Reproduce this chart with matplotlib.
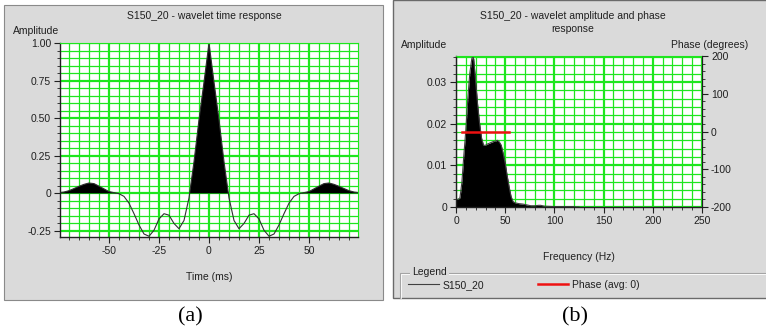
import numpy as np
import matplotlib
matplotlib.use('Agg')
import matplotlib.pyplot as plt
from matplotlib.ticker import MultipleLocator, FixedLocator, FixedFormatter
from matplotlib.patches import Rectangle

plt.rcParams['font.family'] = 'Liberation Sans'
plt.rcParams['axes.unicode_minus'] = False

# wavelet time response, one sample every 2.5 ms
time_ms = [-75, -72.5, -70, -67.5, -65, -62.5, -60, -57.5, -55, -52.5,
           -50, -47.5, -45, -42.5, -40, -37.5, -35, -32.5, -30, -27.5,
           -25, -22.5, -20, -17.5, -15, -12.5, -10, -7.5, -5, -2.5,
           0,
           2.5, 5, 7.5, 10, 12.5, 15, 17.5, 20, 22.5,
           25, 27.5, 30, 32.5, 35, 37.5, 40, 42.5, 45, 47.5,
           50, 52.5, 55, 57.5, 60, 62.5, 65, 67.5, 70, 72.5, 75]
wavelet_amp = [0.005, 0.009, 0.018, 0.032, 0.047, 0.060, 0.069, 0.065, 0.048, 0.030,
               0.012, 0.005, -0.002, -0.02, -0.065, -0.135, -0.21, -0.27, -0.285, -0.245,
               -0.17, -0.135, -0.145, -0.20, -0.235, -0.18, -0.03, 0.21, 0.49, 0.74,
               1.00,
               0.74, 0.49, 0.21, -0.03, -0.18, -0.235, -0.20, -0.145, -0.135,
               -0.17, -0.245, -0.285, -0.27, -0.21, -0.135, -0.065, -0.02, -0.002, 0.005,
               0.012, 0.030, 0.048, 0.065, 0.069, 0.060, 0.047, 0.032, 0.018, 0.009, 0.005]

# amplitude spectrum
freq_hz = [0, 2, 4, 5, 6, 8, 10, 12, 14, 16, 17, 18, 20, 22, 24, 26, 28, 30,
           32, 34, 36, 38, 40, 42, 44, 46, 48, 50, 52, 54, 56, 58, 60, 64,
           68, 72, 76, 80, 84, 86, 90, 100, 110, 120, 122, 125]
spec_amp = [0.0019, 0.0018, 0.0022, 0.004, 0.006, 0.0125, 0.0185, 0.026, 0.032,
            0.0355, 0.0362, 0.0355, 0.030, 0.0245, 0.020, 0.0165, 0.0148, 0.0148,
            0.0151, 0.0153, 0.0155, 0.0157, 0.0158, 0.0160, 0.0156, 0.0148, 0.0128,
            0.0105, 0.0075, 0.0048, 0.0025, 0.0013, 0.0010, 0.0008, 0.0007, 0.0005,
            0.0003, 0.0003, 0.0004, 0.0004, 0.0002, 0.0001, 0.0001, 0.0001, 0.0, 0.0]

# average phase over the pass band
phase_freq = [6, 54]
phase_deg = [0, 0]

time_ticks = [-50, -25, 0, 25, 50]
amp_ticks = [-0.25, 0, 0.25, 0.5, 0.75, 1.0]
amp_labels = ['-0.25', '0', '0.25', '0.50', '0.75', '1.00']
freq_ticks = [0, 50, 100, 150, 200, 250]
spec_ticks = [0, 0.01, 0.02, 0.03]
spec_labels = ['0', '0.01', '0.02', '0.03']
phase_ticks = [-200, -100, 0, 100, 200]

W, H = 766, 331
GREEN = '#1ee61e'
PANEL = '#dadada'
INK = '#202020'
FS = 7.5

fig = plt.figure(figsize=(W / 100, H / 100), dpi=100)
fig.patch.set_facecolor('white')

# pixel-space background with the two window panels
bg = fig.add_axes([0, 0, 1, 1])
bg.set_xlim(0, W)
bg.set_ylim(H, 0)
bg.axis('off')
bg.add_patch(Rectangle((4, 5), 379, 295, facecolor=PANEL, edgecolor='#8a8a8a', lw=0.8))
bg.add_patch(Rectangle((393, 0), 380, 298, facecolor=PANEL, edgecolor='#6a6a6a', lw=1))


def px_axes(x0, y0, x1, y1):
    return fig.add_axes([x0 / W, 1 - y1 / H, (x1 - x0) / W, (y1 - y0) / H])


def style_axes(ax):
    ax.set_facecolor('white')
    ax.set_axisbelow(True)
    ax.grid(which='major', color=GREEN, lw=1.6)
    ax.grid(which='minor', color=GREEN, lw=0.9)
    ax.tick_params(which='major', length=4.5, width=0.8, color=INK,
                   labelsize=FS, labelcolor=INK, pad=2)
    ax.tick_params(which='minor', length=2.5, width=0.6, color=INK)
    for s in ['top', 'right']:
        ax.spines[s].set_color(GREEN)
    for s in ['left', 'bottom']:
        ax.spines[s].set_color(INK)
        ax.spines[s].set_linewidth(1.0)


# (a) wavelet time response
ax1 = px_axes(60, 43, 358, 237)
style_axes(ax1)
t = np.array(time_ms)
w = np.array(wavelet_amp)
ax1.plot(t, w, color='#303030', lw=0.8)
ax1.fill_between(t, w, 0, where=w >= 0, interpolate=True, color='black', lw=0)
ax1.set_xlim(-74.5, 74.5)
ax1.set_ylim(-0.29, 1.0)
ax1.xaxis.set_major_locator(FixedLocator(time_ticks))
ax1.xaxis.set_minor_locator(MultipleLocator(5))
ax1.yaxis.set_major_locator(FixedLocator(amp_ticks))
ax1.yaxis.set_major_formatter(FixedFormatter(amp_labels))
ax1.yaxis.set_minor_locator(MultipleLocator(0.05))

bg.text(204, 16, 'S150_20 - wavelet time response', ha='center', va='center', fontsize=FS, color=INK)
bg.text(13, 31, 'Amplitude', ha='left', va='center', fontsize=FS, color=INK)
bg.text(209, 277, 'Time (ms)', ha='center', va='center', fontsize=FS, color=INK)

# (b) amplitude and phase spectrum
ax2 = px_axes(456, 56, 702, 207)
style_axes(ax2)
ax2.spines['right'].set_color(INK)
spec_line, = ax2.plot(freq_hz, spec_amp, color='#404040', lw=0.8)
ax2.fill_between(freq_hz, spec_amp, 0, color='black', lw=0)
ax2.set_xlim(0, 250)
ax2.set_ylim(0, 0.0362)
ax2.xaxis.set_major_locator(FixedLocator(freq_ticks))
ax2.xaxis.set_minor_locator(MultipleLocator(10))
ax2.yaxis.set_major_locator(FixedLocator(spec_ticks))
ax2.yaxis.set_major_formatter(FixedFormatter(spec_labels))
ax2.yaxis.set_minor_locator(MultipleLocator(0.002))

ax3 = ax2.twinx()
for s in ['top', 'left', 'bottom']:
    ax3.spines[s].set_visible(False)
ax3.spines['right'].set_color(INK)
ph_line, = ax3.plot(phase_freq, phase_deg, color='#ee1111', lw=1.8)
ax3.set_ylim(-200, 200)
ax3.yaxis.set_major_locator(FixedLocator(phase_ticks))
ax3.yaxis.set_minor_locator(MultipleLocator(20))
ax3.tick_params(which='major', length=4.5, width=0.8, color=INK, labelsize=FS, labelcolor=INK, pad=2)
ax3.tick_params(which='minor', length=2.5, width=0.6, color=INK)

bg.text(573, 16, 'S150_20 - wavelet amplitude and phase', ha='center', va='center', fontsize=FS, color=INK)
bg.text(573, 29, 'response', ha='center', va='center', fontsize=FS, color=INK)
bg.text(401, 45, 'Amplitude', ha='left', va='center', fontsize=FS, color=INK)
bg.text(748, 45, 'Phase (degrees)', ha='right', va='center', fontsize=FS, color=INK)
bg.text(579, 257, 'Frequency (Hz)', ha='center', va='center', fontsize=FS, color=INK)

# legend group box
bg.plot([400, 400, W], [298, 273, 273], color='#a4a4a4', lw=0.8)
bg.plot([401, 401, W], [298, 274, 274], color='white', lw=0.6)
bg.text(412, 272, 'Legend', ha='left', va='center', fontsize=FS, color=INK,
        bbox=dict(facecolor=PANEL, edgecolor='none', pad=1.5))
fig.legend(handles=[spec_line, ph_line], labels=['S150_20', 'Phase (avg: 0)'],
           loc='center left', bbox_to_anchor=(399 / W, 1 - 285 / H), ncol=2,
           frameon=False, fontsize=FS, handlelength=2.9, handletextpad=0.4,
           columnspacing=5.1, labelcolor=INK)

# panel captions
bg.text(190, 317, '(a)', ha='center', va='center', fontsize=16, family='Liberation Serif', color='black')
bg.text(575, 317, '(b)', ha='center', va='center', fontsize=16, family='Liberation Serif', color='black')

fig.savefig('out.png', dpi=100)
